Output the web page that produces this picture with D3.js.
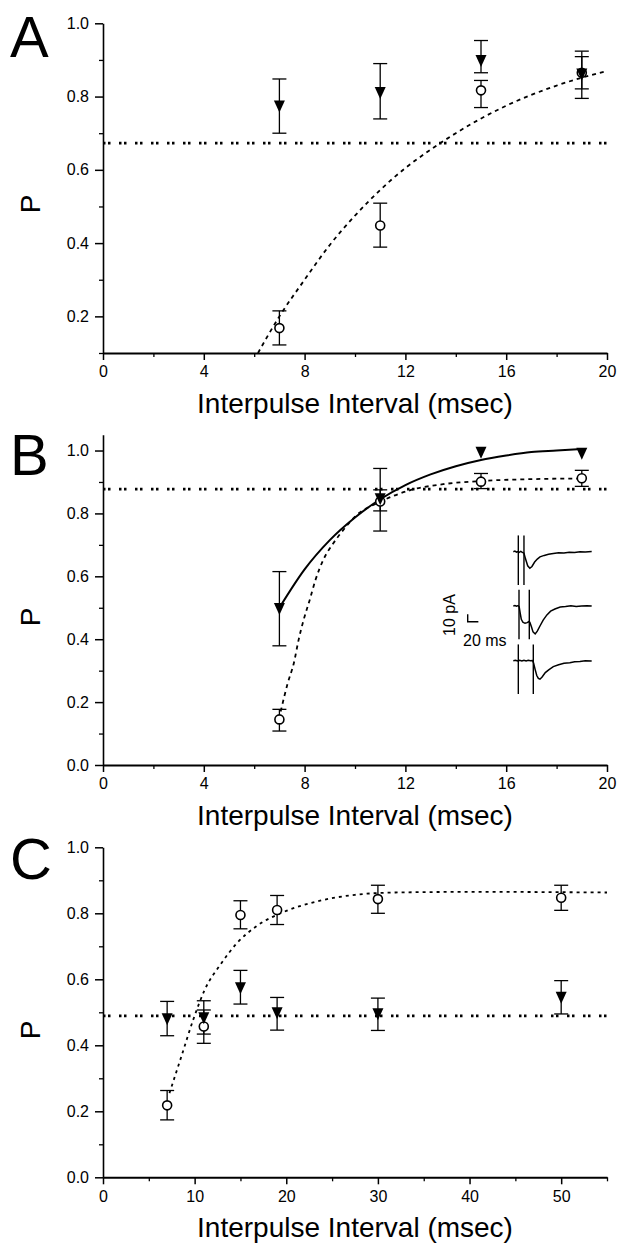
<!DOCTYPE html>
<html>
<head>
<meta charset="utf-8">
<script src="https://cdn.jsdelivr.net/npm/d3@7"></script>
<style>
  body { margin: 0; background: #fff; }
  svg { display: block; }
</style>
</head>
<body>
<div id="chart"></div>
<script>
// ---- data ----
// Panel A
var aX = [7, 11, 15, 19];
var aTriMean = [0.773, 0.81, 0.897, 0.86];
var aTriLo   = [0.70, 0.739, 0.865, 0.795];
var aTriHi   = [0.848, 0.89, 0.953, 0.924];
var aCircMean = [0.168, 0.448, 0.817, 0.865];
var aCircLo   = [0.122, 0.389, 0.77, 0.821];
var aCircHi   = [0.215, 0.509, 0.844, 0.909];
var aLevel = 0.673;
var aFit = [[6.15, 0.10], [7, 0.20], [8, 0.30], [9, 0.395], [10, 0.475], [11, 0.545], [12, 0.605],
            [13, 0.655], [14, 0.70], [16, 0.775], [18, 0.83], [20, 0.87]];

// Panel B
var bX = [7, 11, 15, 19];
var bTriMean = [0.496, 0.845, 0.993, 0.99];
var bTriLo   = [0.379, 0.744, 0.993, 0.99];
var bTriHi   = [0.615, 0.943, 0.993, 0.99];
var bCircMean = [0.145, 0.838, 0.901, 0.912];
var bCircLo   = [0.108, 0.808, 0.879, 0.886];
var bCircHi   = [0.177, 0.875, 0.927, 0.937];
var bLevel = 0.877;
var bFitTri = [[7, 0.50], [8, 0.622], [9, 0.715], [10, 0.787], [11, 0.845], [12, 0.89], [13, 0.924],
               [14, 0.95], [15, 0.97], [16, 0.984], [17, 0.995], [18, 1.0], [19, 1.005]];
var bFitCirc = [[7.05, 0.17], [7.33, 0.26], [7.57, 0.323], [7.76, 0.397], [7.96, 0.461], [8.2, 0.524],
                [8.43, 0.588], [8.74, 0.652], [9.14, 0.705], [9.53, 0.747], [10, 0.79], [11, 0.837],
                [12.2, 0.874], [13.5, 0.893], [15, 0.903], [17, 0.909], [19, 0.911]];

// Panel C
var cX = [7, 11, 15, 19, 30, 50];
var cTriMean = [0.479, 0.482, 0.573, 0.497, 0.494, 0.544];
var cTriLo   = [0.429, 0.434, 0.525, 0.446, 0.445, 0.495];
var cTriHi   = [0.533, 0.535, 0.627, 0.545, 0.543, 0.596];
var cCircMean = [0.218, 0.457, 0.795, 0.81, 0.843, 0.847];
var cCircLo   = [0.174, 0.406, 0.753, 0.766, 0.80, 0.809];
var cCircHi   = [0.263, 0.507, 0.838, 0.854, 0.885, 0.885];
var cLevel = 0.489;
var cFit = [[7.25, 0.255], [8.55, 0.366], [9.84, 0.477], [11.1, 0.568], [12.9, 0.648], [14.6, 0.709],
            [16.7, 0.76], [19.8, 0.805], [23.2, 0.835], [27.5, 0.856], [31.9, 0.863], [40.5, 0.865], [55, 0.863]];

// tick labels
var xTicksAB = [0, 4, 8, 12, 16, 20];
var xTicksC = [0, 10, 20, 30, 40, 50];
var yTicksA = [0.2, 0.4, 0.6, 0.8, 1.0];
var yTicksBC = [0.0, 0.2, 0.4, 0.6, 0.8, 1.0];
var xTitle = "Interpulse Interval (msec)";
var yTitle = "P";

// inset traces (ms, pA relative to baseline)
var trace1 = [[0, 0], [3, 0.8], [6, -0.5], [9, 0.3], [11, -0.8], [14, 0.5], [17, -1], [20, -2], [23, -10],
              [27, -19], [31, -22.4], [35, -20], [40, -14], [45, -10], [50, -7], [58, -5], [66, -3.5],
              [75, -2.5], [85, -1.5], [95, -1.8], [105, -0.6], [115, -1], [125, 0], [135, -0.5], [147, 0.2]];
var trace2 = [[0, 0], [3, 0.5], [6, -0.4], [9, 0.6], [11, -1], [13, -10], [15, -18], [18, -22], [22, -23.4],
              [26, -22.5], [29, -21], [31, -22], [34, -28], [37, -35], [41, -37.8], [45, -34], [50, -27],
              [56, -19], [63, -12], [70, -7], [78, -4], [88, -1.5], [98, -0.8], [108, 0.4], [118, -0.6],
              [128, 0], [138, 0.5], [147, 0]];
var trace3 = [[0, 0], [4, 0.6], [8, -0.5], [12, 0.5], [16, -0.3], [20, 0.6], [24, -0.4], [28, 0.5], [32, 0],
              [36, 0.3], [38, -3], [41, -12], [44, -20], [47, -24], [50, -25], [54, -22], [60, -16],
              [67, -12], [75, -8], [85, -5.5], [95, -3.5], [106, -2.7], [115, -1.5], [125, -1.2],
              [135, 0], [147, -0.3]];
var stim1 = [9.4, 20];
var stim2 = [10.7, 30];
var stim3 = [9.4, 37.5];
var stimExtent = [22, -45];   // pA above / below baseline

var FONT = '"Liberation Sans", Arial, Helvetica, sans-serif';

var svg = d3.select("#chart")
    .append("svg")
    .attr("width", 618)
    .attr("height", 1250)
    .style("font-family", FONT);

svg.append("rect").attr("width", 618).attr("height", 1250).attr("fill", "#fff");

var triPath = "M-5.5,-6L5.5,-6L0,6Z";

function drawPanel(p) {
    var g = svg.append("g");
    var x = d3.scaleLinear().domain(p.xDomain).range([103, 607]);
    var y = d3.scaleLinear().domain(p.yDomain).range(p.yRange);

    // minor ticks
    g.append("g")
        .attr("transform", `translate(0,${p.yRange[0]})`)
        .call(d3.axisBottom(x).tickValues(p.xMinor).tickSize(4).tickFormat(""))
        .call(s => s.select(".domain").remove())
        .selectAll("line").attr("stroke-width", 1.3);
    g.append("g")
        .attr("transform", "translate(103,0)")
        .call(d3.axisLeft(y).tickValues(p.yMinor).tickSize(4).tickFormat(""))
        .call(s => s.select(".domain").remove())
        .selectAll("line").attr("stroke-width", 1.3);

    // major axes
    var xa = g.append("g")
        .attr("transform", `translate(0,${p.yRange[0]})`)
        .call(d3.axisBottom(x).tickValues(p.xTicks).tickSize(7).tickSizeOuter(0).tickPadding(6));
    xa.select(".domain").attr("stroke-width", 2);
    xa.selectAll("line").attr("stroke-width", 1.5);
    xa.selectAll("text").attr("font-size", 16).attr("font-family", FONT).attr("fill", "#000");

    var ya = g.append("g")
        .attr("transform", "translate(103,0)")
        .call(d3.axisLeft(y).tickValues(p.yTicks).tickSize(8).tickSizeOuter(0).tickPadding(6)
            .tickFormat(d3.format(".1f")));
    ya.select(".domain").attr("stroke-width", 1.6);
    ya.selectAll("line").attr("stroke-width", 1.5);
    ya.selectAll("text").attr("font-size", 16).attr("font-family", FONT).attr("fill", "#000");

    // titles
    g.append("text")
        .attr("x", 355).attr("y", p.yRange[0] + 60)
        .attr("text-anchor", "middle")
        .attr("font-size", 28)
        .text(xTitle);
    g.append("text")
        .attr("transform", `translate(40,${p.pY}) rotate(-90)`)
        .attr("text-anchor", "middle")
        .attr("font-size", 28)
        .text(yTitle);
    g.append("text")
        .attr("x", 10).attr("y", p.letterY)
        .attr("font-size", 58)
        .text(p.letter);

    // dotted constant level
    g.append("line")
        .attr("x1", x(p.xDomain[0])).attr("x2", x(p.xDomain[1]))
        .attr("y1", y(p.level)).attr("y2", y(p.level))
        .attr("stroke", "#000").attr("stroke-width", 2.8)
        .attr("stroke-dasharray", "2.5,2.5,2.5,8.5");

    // fitted curves
    var line = d3.line().x(d => x(d[0])).y(d => y(d[1])).curve(d3.curveMonotoneX);
    p.curves.forEach(function (c) {
        g.append("path")
            .attr("d", line(c.pts))
            .attr("fill", "none")
            .attr("stroke", "#000")
            .attr("stroke-width", c.dash ? 1.8 : 2)
            .attr("stroke-dasharray", c.dash || null);
    });

    // error bars
    function errBars(lo, hi) {
        p.xs.forEach(function (xv, i) {
            if (lo[i] === hi[i]) return;
            var cx = x(xv);
            g.append("line").attr("x1", cx).attr("x2", cx)
                .attr("y1", y(lo[i])).attr("y2", y(hi[i]))
                .attr("stroke", "#000").attr("stroke-width", 1.3);
            [lo[i], hi[i]].forEach(function (v) {
                g.append("line").attr("x1", cx - 7).attr("x2", cx + 7)
                    .attr("y1", y(v)).attr("y2", y(v))
                    .attr("stroke", "#000").attr("stroke-width", 1.3);
            });
        });
    }
    errBars(p.triLo, p.triHi);
    errBars(p.circLo, p.circHi);

    // markers
    g.selectAll(".circ").data(p.xs).enter().append("circle")
        .attr("cx", d => x(d))
        .attr("cy", (d, i) => y(p.circMean[i]))
        .attr("r", 4.5)
        .attr("fill", "#fff").attr("stroke", "#000").attr("stroke-width", 1.6);
    g.selectAll(".tri").data(p.xs).enter().append("path")
        .attr("d", triPath)
        .attr("transform", (d, i) => `translate(${x(d)},${y(p.triMean[i])})`)
        .attr("fill", "#000");
}

drawPanel({
    letter: "A", letterY: 57, pY: 204,
    xDomain: [0, 20], yDomain: [0.1, 1.0], yRange: [353, 23.3],
    xTicks: xTicksAB, xMinor: [2, 6, 10, 14, 18],
    yTicks: yTicksA, yMinor: [0.1, 0.3, 0.5, 0.7, 0.9],
    xs: aX, triMean: aTriMean, triLo: aTriLo, triHi: aTriHi,
    circMean: aCircMean, circLo: aCircLo, circHi: aCircHi,
    level: aLevel,
    curves: [{pts: aFit, dash: "4,4"}]
});

drawPanel({
    letter: "B", letterY: 475, pY: 617,
    xDomain: [0, 20], yDomain: [0, 1.05], yRange: [765, 434.8],
    xTicks: xTicksAB, xMinor: [2, 6, 10, 14, 18],
    yTicks: yTicksBC, yMinor: [0.1, 0.3, 0.5, 0.7, 0.9],
    xs: bX, triMean: bTriMean, triLo: bTriLo, triHi: bTriHi,
    circMean: bCircMean, circLo: bCircLo, circHi: bCircHi,
    level: bLevel,
    curves: [{pts: bFitTri, dash: null}, {pts: bFitCirc, dash: "4,4"}]
});

drawPanel({
    letter: "C", letterY: 879, pY: 1030,
    xDomain: [0, 55], yDomain: [0, 1.0], yRange: [1177.3, 847.3],
    xTicks: xTicksC, xMinor: [5, 15, 25, 35, 45, 55],
    yTicks: yTicksBC, yMinor: [0.1, 0.3, 0.5, 0.7, 0.9],
    xs: cX, triMean: cTriMean, triLo: cTriLo, triHi: cTriHi,
    circMean: cCircMean, circLo: cCircLo, circHi: cCircHi,
    level: cLevel,
    curves: [{pts: cFit, dash: "3,4"}]
});

// ---- inset traces in panel B ----
var inset = svg.append("g");
var tx = d3.scaleLinear().domain([0, 147]).range([513.3, 591.7]);
var pxPerPA = 0.74;
[[trace1, stim1, 551.7], [trace2, stim2, 606], [trace3, stim3, 660.7]].forEach(function (t) {
    var ty = d3.scaleLinear().domain([0, 10]).range([t[2], t[2] - 10 * pxPerPA]);
    inset.append("path")
        .attr("d", d3.line().x(d => tx(d[0])).y(d => ty(d[1]))(t[0]))
        .attr("fill", "none").attr("stroke", "#000").attr("stroke-width", 1.5);
    t[1].forEach(function (s) {
        inset.append("line")
            .attr("x1", tx(s)).attr("x2", tx(s))
            .attr("y1", ty(stimExtent[0])).attr("y2", ty(stimExtent[1]))
            .attr("stroke", "#000").attr("stroke-width", 1.4);
    });
});

// scale bar: 10 pA, 20 ms
var sbX = 467.7, sbY = 621.7;
var sbW = tx(20) - tx(0), sbH = 10 * pxPerPA;
inset.append("path")
    .attr("d", `M${sbX},${sbY - sbH}V${sbY}H${sbX + sbW}`)
    .attr("fill", "none").attr("stroke", "#000").attr("stroke-width", 1.4);
inset.append("text")
    .attr("transform", `translate(455,615) rotate(-90)`)
    .attr("text-anchor", "middle")
    .attr("font-size", 16)
    .text("10 pA");
inset.append("text")
    .attr("x", 463).attr("y", 646)
    .attr("font-size", 16)
    .text("20 ms");
</script>
</body>
</html>
